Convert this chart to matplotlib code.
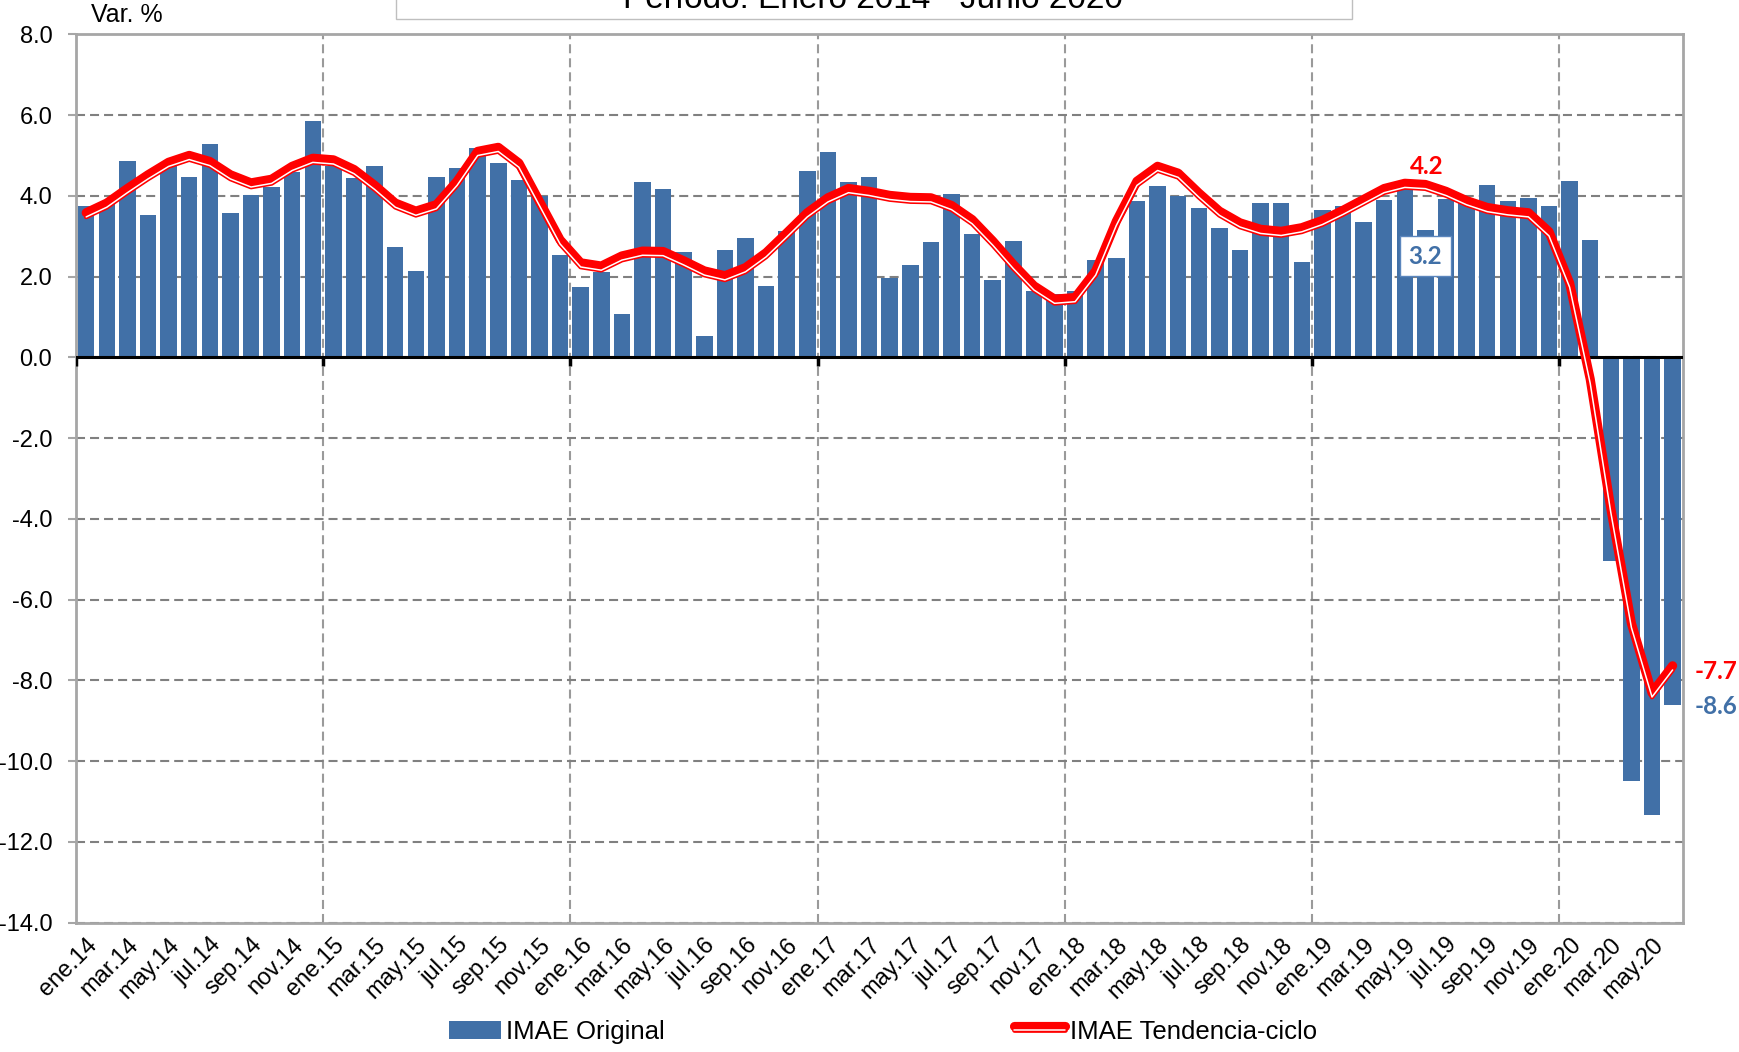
import numpy as np
import matplotlib
matplotlib.use("Agg")
import matplotlib.pyplot as plt
import matplotlib.patheffects as pe
from matplotlib.patches import Rectangle
from matplotlib.ticker import FormatStrFormatter

plt.rcParams['font.family'] = ['Liberation Sans Narrow', 'Liberation Sans', 'DejaVu Sans']
plt.rcParams['lines.scale_dashes'] = False

# ---------------- data ----------------
month_abbr = ["ene", "feb", "mar", "abr", "may", "jun", "jul", "ago", "sep", "oct", "nov", "dic"]
years = ["14", "15", "16", "17", "18", "19", "20"]
months = [f"{m}.{y}" for y in years for m in month_abbr][:78]   # ene.14 ... jun.20

imae_original = [
    3.76, 3.80, 4.87, 3.52, 4.85, 4.46, 5.28, 3.57, 4.02, 4.22, 4.60, 5.85,   # 2014
    4.75, 4.44, 4.74, 2.73, 2.15, 4.46, 4.68, 5.18, 4.82, 4.40, 3.99, 2.53,   # 2015
    1.74, 2.12, 1.08, 4.34, 4.17, 2.60, 0.52, 2.66, 2.95, 1.78, 3.14, 4.62,   # 2016
    5.09, 4.34, 4.46, 1.97, 2.28, 2.85, 4.04, 3.05, 1.91, 2.88, 1.65, 1.56,   # 2017
    1.65, 2.41, 2.47, 3.87, 4.24, 3.99, 3.71, 3.20, 2.66, 3.83, 3.83, 2.37,   # 2018
    3.64, 3.76, 3.35, 3.89, 4.26, 3.16, 3.93, 3.82, 4.27, 3.87, 3.96, 3.74,   # 2019
    4.37, 2.92, -5.05, -10.50, -11.34, -8.60,                                 # 2020
]

imae_tendencia = [
    3.48, 3.72, 4.08, 4.42, 4.73, 4.90, 4.75, 4.42, 4.22, 4.31, 4.63, 4.83,   # 2014
    4.79, 4.55, 4.16, 3.72, 3.52, 3.68, 4.26, 5.00, 5.10, 4.71, 3.76, 2.81,   # 2015
    2.24, 2.16, 2.41, 2.53, 2.52, 2.29, 2.04, 1.92, 2.12, 2.49, 2.98, 3.48,   # 2016
    3.85, 4.08, 4.01, 3.91, 3.86, 3.85, 3.66, 3.31, 2.78, 2.20, 1.67, 1.34,   # 2017
    1.38, 2.04, 3.27, 4.26, 4.63, 4.46, 3.97, 3.52, 3.23, 3.07, 3.02, 3.11,   # 2018
    3.29, 3.54, 3.81, 4.08, 4.21, 4.18, 4.01, 3.78, 3.61, 3.53, 3.48, 3.01,   # 2019
    1.74, -0.64, -3.84, -6.69, -8.41, -7.74,                                  # 2020
]

y_ticks = [-14.0, -12.0, -10.0, -8.0, -6.0, -4.0, -2.0, 0.0, 2.0, 4.0, 6.0, 8.0]

BLUE = "#4170A7"
RED = "#FF0000"
GRID = "#808080"
SPINE = "#A6A6A6"

# ---------------- figure ----------------
fig = plt.figure(figsize=(17.39, 10.52), dpi=100)
ax = fig.add_axes([0.04365, 0.1229, 0.9241, 0.8444])

x = np.arange(len(months))
bars = ax.bar(x, imae_original, width=0.8, color=BLUE, zorder=2, label="IMAE Original")

line, = ax.plot(
    x, imae_tendencia, color="white", lw=1.1, zorder=4,
    solid_capstyle="round", solid_joinstyle="round",
    label="IMAE Tendencia-ciclo",
    path_effects=[
        pe.Stroke(offset=(0, 3.0), linewidth=6.6, foreground=RED),
        pe.Stroke(linewidth=3.4, foreground=RED),
        pe.Normal(),
    ],
)

ax.set_xlim(-0.5, len(months) - 0.5)
ax.set_ylim(-14, 8)

# grid
ax.set_axisbelow(True)
ax.set_yticks(y_ticks)
ax.yaxis.set_major_formatter(FormatStrFormatter("%.1f"))
ax.yaxis.grid(True, linestyle=(0, (6.5, 3.6)), color=GRID, lw=1.5, zorder=0)
year_bounds = np.arange(0, len(months), 12)[1:] - 0.5
ax.vlines(year_bounds, -14, 8, linestyles=[(0, (6.5, 3.6))], colors="#9A9A9A", lw=1.5, zorder=0.5)

# zero axis with year tick marks
ax.axhline(0, color="black", lw=2.2, zorder=3)
ax.vlines(np.arange(0, len(months), 12) - 0.5, -0.22, 0, colors="black", lw=2.5, zorder=3)

# ticks
ax.set_xticks(x[::2])
ax.set_xticklabels(months[::2], rotation=45, ha="right", va="top", rotation_mode="anchor", fontsize=17)
ax.tick_params(axis="x", length=0, pad=8)
ax.tick_params(axis="y", length=6, width=1.5, color=SPINE, pad=11, labelsize=17)

for s in ax.spines.values():
    s.set_color(SPINE)
    s.set_linewidth(2)

# annotations
lbl_font = ["Lato", "DejaVu Sans"]
ax.annotate("4.2", xy=(65, imae_tendencia[65]), xytext=(1, 16), textcoords="offset points",
            ha="center", va="center", color=RED, fontsize=17.5, fontweight="bold", family=lbl_font)
ax.annotate("3.2", xy=(65, imae_original[65]), xytext=(0, -19), textcoords="offset points",
            ha="center", va="center", color=BLUE, fontsize=17.5, fontweight="bold", family=lbl_font,
            bbox=dict(boxstyle="square,pad=0.35", fc="white", ec="#5B86BD", lw=1))
ax.annotate("-7.7", xy=(77, imae_tendencia[77]), xytext=(16, -1), textcoords="offset points",
            ha="left", va="center", color=RED, fontsize=17.5, fontweight="bold", family=lbl_font,
            annotation_clip=False)
ax.annotate("-8.6", xy=(77, imae_original[77]), xytext=(16, -1), textcoords="offset points",
            ha="left", va="center", color=BLUE, fontsize=17.5, fontweight="bold", family=lbl_font,
            annotation_clip=False)

# header texts
fig.text(0.0523, 0.986, "Var. %", ha="left", va="center", fontsize=18,
         family=["Liberation Sans", "DejaVu Sans"])
fig.patches.append(Rectangle((0.2277, 0.98194), 0.550, 0.05, transform=fig.transFigure,
                             fc="white", ec="#BFBFBF", lw=1, clip_on=False))
fig.text(0.5017, 1 - 8 / 1052, "Período: Enero 2014 - Junio 2020", ha="center", va="baseline",
         fontsize=24, family=["Liberation Sans", "DejaVu Sans"])

# legend
fig.legend(handles=[bars, line], loc="center", bbox_to_anchor=(0.508, 0.019), ncol=2,
           frameon=False, fontsize=18.5, handlelength=2.0, handletextpad=0.2,
           columnspacing=13.6, handleheight=0.65)

fig.savefig("out.png", dpi=100, facecolor="white")
